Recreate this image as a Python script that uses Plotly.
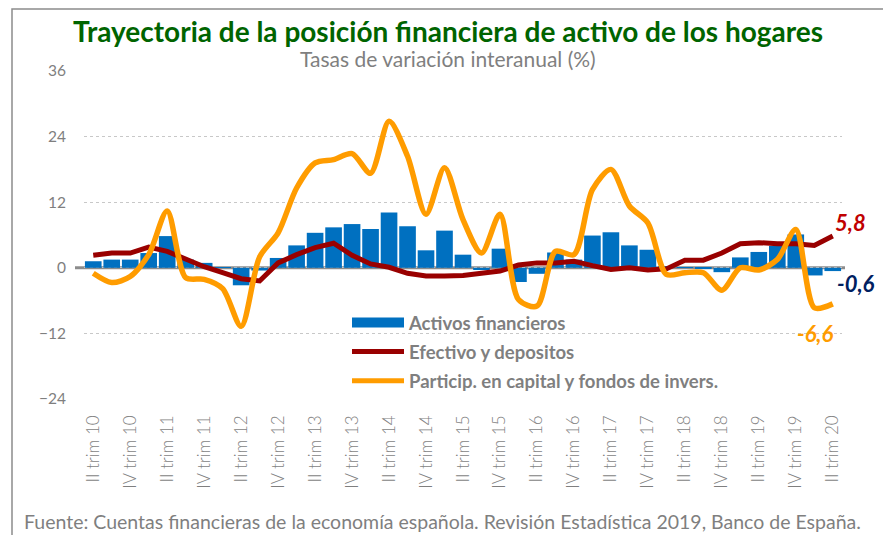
import plotly.graph_objects as go

# ---- data ----
years = ["10", "11", "12", "13", "14", "15", "16", "17", "18", "19", "20"]
quarters = ["I", "II", "III", "IV"]
categories = [f"{q} trim {y}" for y in years for q in quarters][1:42]  # II trim 10 .. II trim 20
tick_labels = [c for c in categories if c.startswith("II trim") or c.startswith("IV trim")]

activos = [1.2, 1.5, 1.5, 2.7, 5.8, 1.5, 0.9, 0.1, -3.2, -0.5,
           1.8, 4.1, 6.4, 7.4, 8.0, 7.1, 10.1, 7.6, 3.2, 6.8,
           2.4, -0.4, 3.5, -2.6, -1.1, 2.8, 1.5, 5.9, 6.5, 4.1,
           3.3, 0.2, 0.1, -0.2, -0.8, 1.9, 2.9, 4.0, 6.1, -1.4, -0.6]
efectivo = [2.3, 2.7, 2.7, 3.8, 3.0, 1.6, 0.2, -0.9, -2.0, -2.4,
            0.9, 2.4, 3.7, 4.5, 2.3, 0.7, 0.1, -1.0, -1.5, -1.5,
            -1.4, -1.0, -0.6, 0.5, 0.9, 0.9, 1.2, 0.4, -0.3, 0.0,
            -0.4, -0.2, 1.4, 1.4, 2.7, 4.4, 4.6, 4.4, 4.4, 4.1, 5.8]
particip = [-1.0, -2.7, -1.6, 2.4, 10.4, -1.8, -2.1, -3.8, -10.7, 2.0,
            6.4, 14.6, 19.2, 19.8, 20.9, 17.3, 26.8, 20.4, 9.8, 18.3,
            8.8, 2.7, 9.8, -5.8, -7.0, 3.0, 2.4, 14.3, 18.0, 11.3,
            8.2, -1.2, -0.9, -0.9, -4.1, 0.0, -0.4, 1.5, 7.0, -7.3, -6.6]
y_ticks = [-24, -12, 0, 12, 24, 36]

names = ["Activos financieros", "Efectivo y depositos",
         "Particip. en capital y fondos de invers."]

FONT = "Lato"
GRAY = "#7f7f7f"
BLUE = "#0070C0"
RED = "#990000"
ORANGE = "#FF9C00"

fig = go.Figure()
fig.add_trace(go.Bar(x=categories, y=activos, name=names[0],
                     marker=dict(color=BLUE, line=dict(width=0)),
                     showlegend=False))
fig.add_trace(go.Scatter(x=categories, y=efectivo, name=names[1], mode="lines",
                         line=dict(color=RED, width=5), showlegend=False))
fig.add_trace(go.Scatter(x=categories, y=particip, name=names[2], mode="lines",
                         line=dict(color=ORANGE, width=5.5, shape="spline", smoothing=0.8),
                         showlegend=False))
# legend entries (legend-only keys)
fig.add_trace(go.Scatter(x=[None], y=[None], name=names[0], mode="lines",
                         line=dict(color=BLUE, width=11), legendgroup="a"))
fig.add_trace(go.Scatter(x=[None], y=[None], name=names[1], mode="lines",
                         line=dict(color=RED, width=5), legendgroup="b"))
fig.add_trace(go.Scatter(x=[None], y=[None], name=names[2], mode="lines",
                         line=dict(color=ORANGE, width=5), legendgroup="c"))

L, R, T, B = 84, 41, 71, 136
W, H = 883, 535
pw, ph = W - L - R, H - T - B

def px(xp):
    return (xp - L) / pw

def py(yp):
    return (H - B - yp) / ph

fig.update_layout(
    width=W, height=H,
    margin=dict(l=L, r=R, t=T, b=B, pad=0),
    paper_bgcolor="white", plot_bgcolor="white",
    bargap=0.1,
    showlegend=True,
    legend=dict(x=px(347), y=py(304), xanchor="left", yanchor="top",
                bgcolor="rgba(0,0,0,0)", traceorder="grouped", tracegroupgap=2,
                itemwidth=52,
                font=dict(family=FONT, size=18.5, color=GRAY, weight="bold")),
    font=dict(family=FONT, color=GRAY),
    xaxis=dict(type="category", tickmode="array", tickvals=tick_labels, ticktext=tick_labels,
               tickangle=-90, tickfont=dict(family=FONT, size=17, color=GRAY, weight=300),
               showgrid=False, zeroline=False, showline=False, ticks="",
               ticklabelstandoff=12, range=[-0.5, len(categories) - 0.5]),
    yaxis=dict(range=[-24, 36], tickmode="array", tickvals=y_ticks,
               tickfont=dict(family=FONT, size=15.5, color=GRAY),
               showgrid=True, gridcolor="#c8c8c8", griddash="dot", gridwidth=1,
               zeroline=False, showline=False, ticks="", ticklabelstandoff=17),
)

# zero axis line
fig.add_shape(type="line", xref="paper", yref="y", x0=px(75), x1=px(845), y0=0, y1=0,
              line=dict(color="#8c8c8c", width=3), layer="below")
# outer frame
fig.add_shape(type="rect", xref="paper", yref="paper",
              x0=px(12), x1=px(890), y0=py(9), y1=py(545),
              line=dict(color="#8c8c8c", width=1.5), layer="below")

# titles
fig.add_annotation(text="<b>Trayectoria de la posición financiera de activo de los hogares</b>",
                   xref="paper", yref="paper", x=px(448), y=py(31), showarrow=False,
                   xanchor="center", yanchor="middle",
                   font=dict(family=FONT, size=28, color="#006400"))
fig.add_annotation(text="Tasas de variación interanual (%)",
                   xref="paper", yref="paper", x=px(448), y=py(59), showarrow=False,
                   xanchor="center", yanchor="middle",
                   font=dict(family=FONT, size=21, color=GRAY))
fig.add_annotation(text="Fuente: Cuentas financieras de la economía española. Revisión Estadística 2019, Banco de España.",
                   xref="paper", yref="paper", x=px(22), y=py(521), showarrow=False,
                   xanchor="left", yanchor="middle",
                   font=dict(family=FONT, size=19.5, color=GRAY))

# end-value labels
for txt, xp, yp, col in [("5,8", 850, 222, "#C00000"),
                         ("-0,6", 856, 283, "#002060"),
                         ("-6,6", 815, 333, ORANGE)]:
    fig.add_annotation(text=f"<b><i>{txt}</i></b>", xref="paper", yref="paper",
                       x=px(xp), y=py(yp), showarrow=False, xanchor="center", yanchor="middle",
                       font=dict(family=FONT, size=22, color=col))

fig.write_html("out.html", config={"displayModeBar": False},
               post_script="document.body.style.margin='0';")
